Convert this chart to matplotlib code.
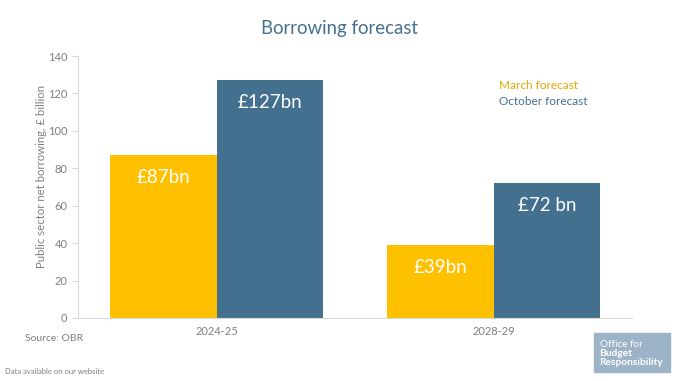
import matplotlib.pyplot as plt
import numpy as np
from matplotlib.patches import Rectangle

categories = ["2024-25", "2028-29"]
march = [87, 39]
october = [127, 72]
march_labels = ["£87bn", "£39bn"]
october_labels = ["£127bn", "£72 bn"]

YELLOW = "#FFC000"
BLUE = "#44708F"
GREY = "#7F7F7F"
AXIS = "#D9D9D9"

plt.rcParams["font.family"] = ["Lato", "DejaVu Sans"]

fig = plt.figure(figsize=(6.79, 3.81), dpi=100)
ax = fig.add_axes([0.1149, 0.1654, 0.816, 0.6876])

x = np.arange(len(categories))
w = 0.386
b1 = ax.bar(x - w / 2, march, w, color=YELLOW)
b2 = ax.bar(x + w / 2, october, w, color=BLUE)

for bars, labels in ((b1, march_labels), (b2, october_labels)):
    for bar, lab in zip(bars, labels):
        ax.annotate(lab, (bar.get_x() + bar.get_width() / 2, bar.get_height()),
                    xytext=(0, -16), textcoords="offset points",
                    ha="center", va="center", color="white", fontsize=13.5)

ax.set_xlim(-0.5, 1.5)
ax.set_ylim(0, 140)
ax.set_yticks(range(0, 141, 20))
ax.set_xticks(x)
ax.set_xticklabels(categories)
ax.tick_params(axis="both", colors=AXIS, labelcolor=GREY, labelsize=8)
ax.tick_params(axis="x", length=0, pad=6)
ax.tick_params(axis="y", length=4)
for s in ("top", "right"):
    ax.spines[s].set_visible(False)
for s in ("left", "bottom"):
    ax.spines[s].set_color(AXIS)

fig.text(0.061, 0.538, "Public sector net borrowing, £ billion", color=GREY,
         fontsize=8.2, rotation=90, ha="center", va="center")
fig.text(0.5, 0.925, "Borrowing forecast", ha="center", va="center",
         color=BLUE, fontsize=13.4)
fig.text(0.735, 0.775, "March forecast", color="#E5A800", fontsize=8.5,
         va="center")
fig.text(0.735, 0.733, "October forecast", color=BLUE, fontsize=8.5,
         va="center")
fig.text(0.037, 0.112, "Source: OBR", color=GREY, fontsize=7.5, va="center")
fig.text(0.007, 0.024, "Data available on our website", color=GREY,
         fontsize=5.5, va="center")

fig.patches.append(Rectangle((0.875, 0.024), 0.112, 0.102,
                             transform=fig.transFigure, color="#9DB3C8"))
fig.text(0.883, 0.097, "Office for", color="white", fontsize=7.2, va="center")
fig.text(0.883, 0.071, "Budget", color="white", fontsize=7.3,
         fontweight="bold", va="center")
fig.text(0.883, 0.048, "Responsibility", color="white", fontsize=7.3,
         fontweight="bold", va="center")

fig.savefig("out.png", dpi=100)
